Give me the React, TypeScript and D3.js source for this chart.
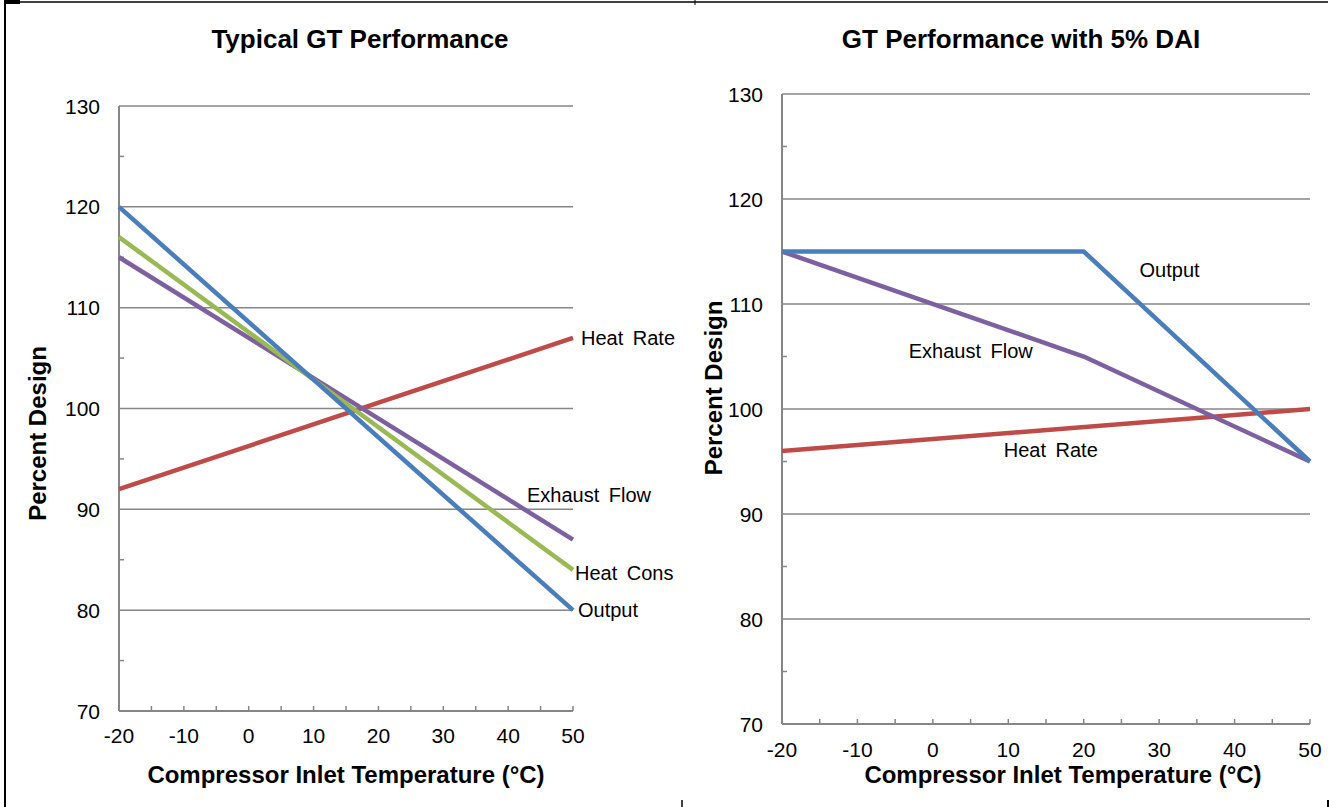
import React from "react";
import { scaleLinear, line, range } from "d3";

const width = 1333;
const height = 807;

// temperatures (°C) and percent-design values
const typicalTemps = [-20, 50];
const typicalOutput = [120, 80];
const typicalHeatCons = [117, 84];
const typicalExhaust = [115, 87];
const typicalHeatRate = [92, 107];

const daiOutputTemps = [-20, 20, 50];
const daiOutput = [115, 115, 95];
const daiExhaustTemps = [-20, 20, 50];
const daiExhaust = [115, 105, 95];
const daiHeatRateTemps = [-20, 50];
const daiHeatRate = [96, 100];

const xTicks = [-20, -10, 0, 10, 20, 30, 40, 50];
const yTicks = [70, 80, 90, 100, 110, 120, 130];

const colors = {
  output: "#4a7ebb",
  heatCons: "#98b954",
  exhaust: "#7d60a0",
  heatRate: "#be4b48"
};

const font = "Liberation Sans, Arial, sans-serif";
const axisColor = "#868686";

const zip = (xs, ys) => xs.map((x, i) => ({ t: x, v: ys[i] }));

const Panel = ({ title, box, series, labels, tickGap, yTitleX, titleX }) => {
  const xScale = scaleLinear().domain([-20, 50]).range([box.left, box.right]);
  const yScale = scaleLinear().domain([70, 130]).range([box.bottom, box.top]);
  const path = line()
    .x((d) => xScale(d.t))
    .y((d) => yScale(d.v));

  return (
    <g fontFamily={font}>
      <text x={titleX} y={48} textAnchor="middle" fontWeight="bold" fontSize={26}>
        {title}
      </text>

      {/* gridlines */}
      {yTicks.map((v) => (
        <g key={v}>
          <line
            x1={box.left}
            x2={box.right}
            y1={yScale(v)}
            y2={yScale(v)}
            stroke={axisColor}
            strokeWidth={1.5}
          />
          <text
            x={box.left - 19}
            y={yScale(v)}
            dy="0.36em"
            textAnchor="end"
            fontSize={21}
          >
            {v}
          </text>
        </g>
      ))}

      {/* minor y ticks */}
      {range(75, 130, 10).map((v) => (
        <line
          key={v}
          x1={box.left}
          x2={box.left + 5}
          y1={yScale(v)}
          y2={yScale(v)}
          stroke={axisColor}
          strokeWidth={1.5}
        />
      ))}

      {/* axes */}
      <line x1={box.left} x2={box.left} y1={box.top} y2={box.bottom} stroke={axisColor} strokeWidth={2} />
      <line x1={box.left} x2={box.right} y1={box.bottom} y2={box.bottom} stroke={axisColor} strokeWidth={2} />

      {range(-20, 51, 5).map((t) => (
        <line
          key={t}
          x1={xScale(t)}
          x2={xScale(t)}
          y1={box.bottom}
          y2={box.bottom - 5}
          stroke={axisColor}
          strokeWidth={1.5}
        />
      ))}
      {xTicks.map((t) => (
        <text key={t} x={xScale(t)} y={box.bottom + tickGap} textAnchor="middle" fontSize={21}>
          {t}
        </text>
      ))}

      {/* series */}
      {series.map((s) => (
        <path
          key={s.name}
          d={path(s.data)}
          fill="none"
          stroke={s.color}
          strokeWidth={4.5}
          strokeLinejoin="round"
        />
      ))}
      {labels.map((l) => (
        <text
          key={l.text}
          x={xScale(l.t) + (l.dx || 0)}
          y={yScale(l.v)}
          dy="0.36em"
          fontSize={20}
          wordSpacing={4}
        >
          {l.text}
        </text>
      ))}

      <text x={(box.left + box.right) / 2 + (box.titleShift || 0)} y={783} textAnchor="middle" fontWeight="bold" fontSize={24}>
        Compressor Inlet Temperature (°C)
      </text>
      <text
        transform={`translate(${yTitleX}, ${(box.top + box.bottom) / 2 + (box.yTitleShift || 0)}) rotate(-90)`}
        textAnchor="middle"
        fontWeight="bold"
        fontSize={24}
      >
        Percent Design
      </text>
    </g>
  );
};

export default function App() {
  const leftSeries = [
    { name: "Heat Rate", color: colors.heatRate, data: zip(typicalTemps, typicalHeatRate) },
    { name: "Exhaust Flow", color: colors.exhaust, data: zip(typicalTemps, typicalExhaust) },
    { name: "Heat Cons", color: colors.heatCons, data: zip(typicalTemps, typicalHeatCons) },
    { name: "Output", color: colors.output, data: zip(typicalTemps, typicalOutput) }
  ];
  const rightSeries = [
    { name: "Heat Rate", color: colors.heatRate, data: zip(daiHeatRateTemps, daiHeatRate) },
    { name: "Exhaust Flow", color: colors.exhaust, data: zip(daiExhaustTemps, daiExhaust) },
    { name: "Output", color: colors.output, data: zip(daiOutputTemps, daiOutput) }
  ];

  const leftLabels = [
    { text: "Heat Rate", t: 50, v: 107, dx: 8 },
    { text: "Exhaust Flow", t: 42.9, v: 91.4 },
    { text: "Heat Cons", t: 50, v: 83.7, dx: 2 },
    { text: "Output", t: 50, v: 80, dx: 5 }
  ];
  const rightLabels = [
    { text: "Output", t: 27.4, v: 113.3 },
    { text: "Exhaust Flow", t: -3.2, v: 105.5 },
    { text: "Heat Rate", t: 9.4, v: 96.1 }
  ];

  return (
    <svg width={width} height={height} style={{ position: "absolute", left: 0, top: 0, background: "#fff" }}>
      {/* outer frame */}
      <line x1={5} x2={5} y1={1} y2={height} stroke="#000" strokeWidth={2} />
      <line x1={4} x2={1328} y1={2} y2={2} stroke="#000" strokeWidth={1.5} />
      <rect x={4} y={0} width={16} height={4} fill="#000" />
      <line x1={695} x2={695} y1={0} y2={5} stroke="#000" strokeWidth={1} />
      <line x1={682} x2={682} y1={800} y2={807} stroke="#000" strokeWidth={1.5} />
      <line x1={1328} x2={1328} y1={800} y2={807} stroke="#000" strokeWidth={2} />

      <Panel
        title="Typical GT Performance"
        box={{ left: 119, right: 573, top: 106, bottom: 711, titleShift: 0, yTitleShift: 25 }}
        series={leftSeries}
        labels={leftLabels}
        tickGap={32}
        yTitleX={46}
        titleX={360}
      />
      <Panel
        title="GT Performance with 5% DAI"
        box={{ left: 782, right: 1310, top: 94, bottom: 724, titleShift: 17, yTitleShift: -21 }}
        series={rightSeries}
        labels={rightLabels}
        tickGap={33}
        yTitleX={722}
        titleX={1021}
      />
    </svg>
  );
}
